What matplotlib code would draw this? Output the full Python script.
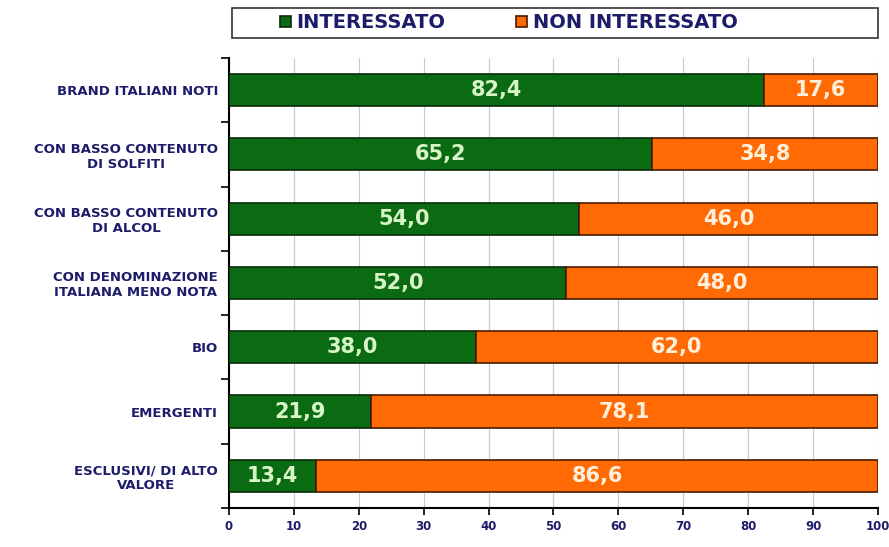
import matplotlib.pyplot as plt
from matplotlib.patches import Rectangle
import numpy as np

categories = ['BRAND ITALIANI NOTI', 'CON BASSO CONTENUTO\nDI SOLFITI',
              'CON BASSO CONTENUTO\nDI ALCOL', 'CON DENOMINAZIONE\nITALIANA MENO NOTA',
              'BIO', 'EMERGENTI', 'ESCLUSIVI/ DI ALTO\nVALORE']
interessato = [82.4, 65.2, 54.0, 52.0, 38.0, 21.9, 13.4]
non_interessato = [17.6, 34.8, 46.0, 48.0, 62.0, 78.1, 86.6]

green = '#0b6b12'
orange = '#ff6a05'
navy = '#1c1c6b'

fig = plt.figure(figsize=(8.89, 5.47), dpi=100)
ax = fig.add_axes([0.2576, 0.0713, 0.7300, 0.8227])

y = np.arange(len(categories))
h = 0.5
b1 = ax.barh(y, interessato, height=h, color=green, edgecolor='#0a2a0a', linewidth=1.2,
             label='INTERESSATO', zorder=3)
b2 = ax.barh(y, non_interessato, left=interessato, height=h, color=orange, edgecolor='#4a1a00',
             linewidth=1.2, label='NON INTERESSATO', zorder=3)

for i in range(len(categories)):
    ax.text(interessato[i] / 2, y[i], f'{interessato[i]:.1f}'.replace('.', ','),
            ha='center', va='center', color='#d8f5c8', fontsize=15, fontweight='bold', zorder=4)
    ax.text(interessato[i] + non_interessato[i] / 2, y[i], f'{non_interessato[i]:.1f}'.replace('.', ','),
            ha='center', va='center', color='#fff0dc', fontsize=15, fontweight='bold', zorder=4)

ax.set_xlim(0, 100)
ax.set_ylim(len(categories) - 0.5, -0.5)
ax.set_xticks(range(0, 101, 10))
ax.set_yticks(y)
ax.set_yticklabels(categories, fontsize=9.5, fontweight='bold', color=navy, ha='right',
                   multialignment='center')
ax.tick_params(axis='y', length=0, pad=8)
ax.set_yticks(np.arange(-0.5, len(categories), 1), minor=True)
ax.tick_params(axis='y', which='minor', length=6, width=1.2)
ax.tick_params(axis='x', labelsize=8.5, labelcolor=navy, length=5, width=1.2)
for t in ax.get_xticklabels():
    t.set_fontweight('bold')
ax.grid(axis='x', color='#c8c8d0', linewidth=0.8, zorder=0)
ax.spines['top'].set_visible(False)
ax.spines['right'].set_visible(False)
ax.spines['left'].set_linewidth(1.5)
ax.spines['bottom'].set_linewidth(1.5)

# legend frame and the two entries
fig.patches.append(Rectangle((232 / 889, 1 - 38 / 547), 646 / 889, 30 / 547,
                             transform=fig.transFigure, fill=False, edgecolor='#333333', linewidth=1.2))
leg_y = 1 - 23 / 547
for handle, lab, x0 in [(b1, 'INTERESSATO', 280), (b2, 'NON INTERESSATO', 516)]:
    leg = fig.legend([handle], [lab], loc='center left', bbox_to_anchor=(x0 / 889, leg_y), frameon=False,
                     prop={'size': 14, 'weight': 'bold'}, handlelength=0.55, handleheight=0.55,
                     handletextpad=0.3, borderaxespad=0, borderpad=0)
    for t in leg.get_texts():
        t.set_color(navy)

fig.savefig('out.png', dpi=100)
